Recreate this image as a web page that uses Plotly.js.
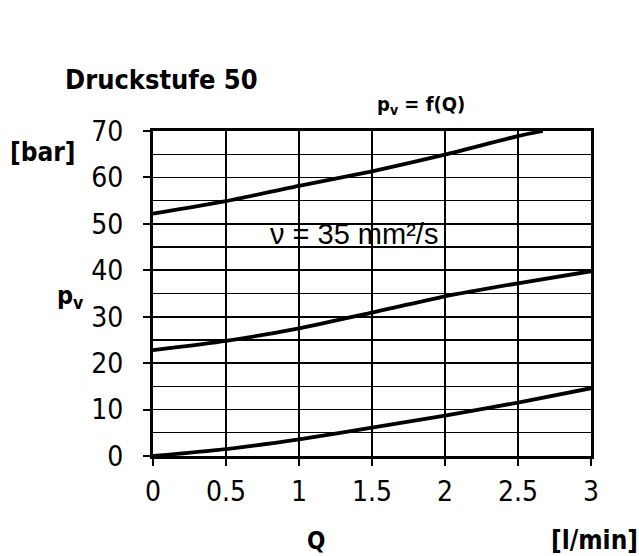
<!DOCTYPE html>
<html>
<head>
<meta charset="utf-8">
<script src="https://cdn.plot.ly/plotly-3.0.1.min.js"></script>
<style>
html,body{margin:0;padding:0;background:#fff;}
text{font-stretch:condensed;}
</style>
</head>
<body>
<div id="chart" style="width:639px;height:556px;"></div>
<script>
// Flow Q [l/min]
const qTop = [0, 0.5, 1, 1.5, 2, 2.5, 2.67];
const pTop = [52.2, 54.9, 58.2, 61.3, 64.9, 68.9, 70];
const qMid = [0, 0.5, 1, 1.5, 2, 2.5, 3];
const pMid = [22.8, 24.8, 27.5, 30.9, 34.4, 37.2, 39.8];
const qLow = [0, 0.5, 1, 1.5, 2, 2.5, 3];
const pLow = [0, 1.5, 3.6, 6.1, 8.7, 11.5, 14.6];

const xTickVals = [0, 0.5, 1, 1.5, 2, 2.5, 3];
const xTickText = ['0', '0.5', '1', '1.5', '2', '2.5', '3'];
const yTickVals = [0, 10, 20, 30, 40, 50, 60, 70];

const lineStyle = {color: '#000', width: 3.8, shape: 'spline', smoothing: 0.6};
const traces = [
  {x: qTop, y: pTop, mode: 'lines', line: lineStyle, hoverinfo: 'skip'},
  {x: qMid, y: pMid, mode: 'lines', line: lineStyle, hoverinfo: 'skip'},
  {x: qLow, y: pLow, mode: 'lines', line: lineStyle, hoverinfo: 'skip'}
];

const tickFont = {family: 'DejaVu Sans, sans-serif', size: 28, color: '#000'};
const boldFont = (s) => ({family: 'DejaVu Sans, sans-serif', size: s, color: '#000', weight: 'bold'});

const layout = {
  width: 639, height: 556,
  margin: {l: 153, r: 48, t: 131, b: 100},
  paper_bgcolor: '#fff', plot_bgcolor: '#fff',
  showlegend: false,
  xaxis: {
    range: [0, 3], tickvals: xTickVals, ticktext: xTickText,
    showgrid: true, gridcolor: '#000', gridwidth: 1.6,
    zeroline: false, showline: true, linecolor: '#000', linewidth: 3, mirror: true,
    ticks: 'outside', ticklen: 7, tickwidth: 2, tickcolor: '#000',
    ticklabelstandoff: 1,
    tickfont: tickFont, fixedrange: true
  },
  yaxis: {
    range: [0, 70], tickvals: yTickVals,
    showgrid: true, gridcolor: '#000', gridwidth: 1.6,
    minor: {dtick: 5, showgrid: true, gridcolor: '#000', gridwidth: 1.4, ticks: ''},
    zeroline: false, showline: true, linecolor: '#000', linewidth: 3, mirror: true,
    ticks: 'outside', ticklen: 7, tickwidth: 2, tickcolor: '#000',
    ticklabelstandoff: 14,
    tickfont: tickFont, fixedrange: true
  },
  annotations: [
    {text: 'Druckstufe 50', xref: 'paper', yref: 'paper', x: -0.2055, y: 1.157,
     xanchor: 'left', yanchor: 'middle', showarrow: false, font: boldFont(27)},
    {text: 'p<sub>v</sub> = f(Q)', xref: 'paper', yref: 'paper', x: 0.507, y: 1.08,
     xanchor: 'left', yanchor: 'middle', showarrow: false, font: boldFont(20)},
    {text: '[bar]', xref: 'paper', yref: 'paper', x: -0.331, y: 0.935,
     xanchor: 'left', yanchor: 'middle', showarrow: false, font: boldFont(26)},
    {text: 'p<sub>v</sub>', xref: 'paper', yref: 'paper', x: -0.224, y: 0.49,
     xanchor: 'left', yanchor: 'middle', showarrow: false, font: boldFont(25)},
    {text: 'Q', xref: 'paper', yref: 'paper', x: 0.372, y: -0.262,
     xanchor: 'center', yanchor: 'middle', showarrow: false, font: boldFont(24)},
    {text: '[l/min]', xref: 'paper', yref: 'paper', x: 1.112, y: -0.258,
     xanchor: 'right', yanchor: 'middle', showarrow: false, font: boldFont(26)},
    {text: 'ν = 35 mm²/s', xref: 'x', yref: 'y', x: 0.79, y: 47.8,
     xanchor: 'left', yanchor: 'middle', showarrow: false,
     font: {family: 'Liberation Sans, Arial, sans-serif', size: 29, color: '#000'}}
  ]
};

Plotly.newPlot('chart', traces, layout, {displayModeBar: false, staticPlot: true});
</script>
</body>
</html>
